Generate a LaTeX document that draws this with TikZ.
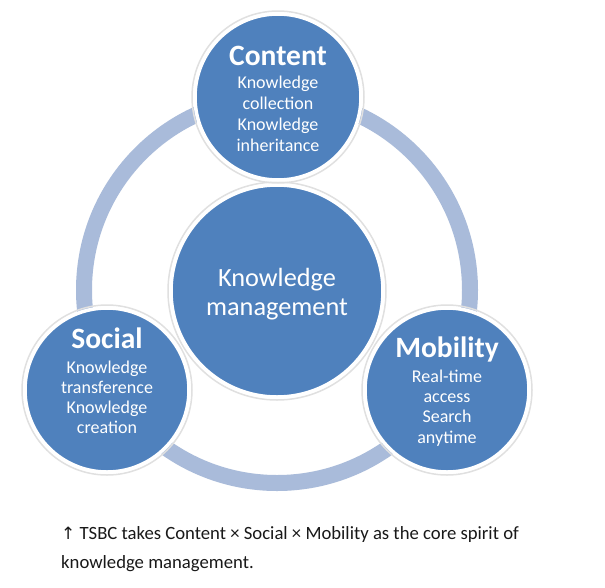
\documentclass[tikz,border=0pt]{standalone}
\usepackage{fontspec}
\setmainfont{Carlito}
\newfontfamily\symfont{DejaVu Sans}
\definecolor{kmblue}{RGB}{79,129,189}
\definecolor{kmring}{RGB}{169,187,218}
\begin{document}
\begin{tikzpicture}[x=1pt,y=-1pt,
  bubble/.style={circle,fill=kmblue,draw=white,line width=3.5pt,inner sep=0pt},
  shade/.style={circle,draw=black!12,line width=1.5pt,inner sep=0pt},
  ttl/.style={anchor=base,text=white,font=\fontsize{29.5}{30}\selectfont\bfseries,inner sep=0pt},
  body/.style={anchor=base,text=white,font=\fontsize{18}{20}\selectfont,inner sep=0pt},
  big/.style={anchor=base,text=white,font=\fontsize{26.3}{29}\selectfont,inner sep=0pt},
  captext/.style={anchor=base west,text=black!90,font=\fontsize{18.7}{20}\selectfont,inner sep=0pt}]
\useasboundingbox[fill=white] (0,0) rectangle (605,587);
% ring
\draw[kmring,line width=16pt] (277,290) circle[radius=193];
% circles
\node[shade,minimum size=218pt] at (277,291) {};
\node[bubble,minimum size=212pt] (km) at (277,291) {};
\node[shade,minimum size=172pt] at (278,97) {};
\node[bubble,minimum size=166pt] (content) at (278,97) {};
\node[shade,minimum size=170pt] at (107,390) {};
\node[bubble,minimum size=164pt] (social) at (107,390) {};
\node[shade,minimum size=170pt] at (447,390) {};
\node[bubble,minimum size=164pt] (mobility) at (447,390) {};
% texts
\node[big] (km1) at (277,286) {Knowledge};
\node[big] (km2) at (277,315) {management};
\node[ttl] (c0) at (278,65) {Content};
\node[body] (c1) at (278,88) {Knowledge};
\node[body] (c2) at (278,109) {collection};
\node[body] (c3) at (278,130) {Knowledge};
\node[body] (c4) at (278,151) {inheritance};
\node[ttl] (s0) at (107,348) {Social};
\node[body] (s1) at (107,373) {Knowledge};
\node[body] (s2) at (107,393) {transference};
\node[body] (s3) at (107,413) {Knowledge};
\node[body] (s4) at (107,433) {creation};
\node[ttl] (m0) at (447,357) {Mobility};
\node[body] (m1) at (447,382) {Real-time};
\node[body] (m2) at (447,402) {access};
\node[body] (m3) at (447,422) {Search};
\node[body] (m4) at (447,443) {anytime};
% caption
\node[captext] (cap1) at (61,539) {{\symfont\fontsize{17}{20}\selectfont ↑} TSBC takes Content × Social × Mobility as the core spirit of};
\node[captext] (cap2) at (61,568) {knowledge management.};
\end{tikzpicture}
\end{document}
